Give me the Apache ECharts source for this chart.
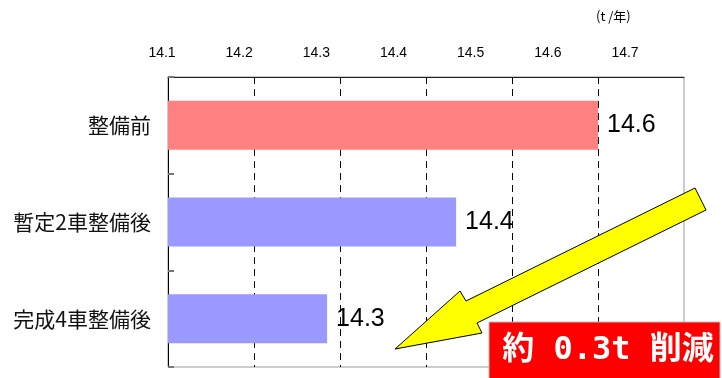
<!DOCTYPE html>
<html>
<head>
<meta charset="utf-8">
<script src="https://cdn.jsdelivr.net/npm/echarts@6/dist/echarts.min.js"></script>
<style>
  html, body { margin: 0; padding: 0; background: #fff; }
  #chart { width: 722px; height: 378px; }
</style>
</head>
<body>
<div id="chart"></div>
<script>
// CO2 emissions per year for each road-improvement stage (t/年)
const categories = ['整備前', '暫定2車整備後', '完成4車整備後'];
const emissions = [14.60, 14.435, 14.285];
const axisMin = 14.1;
const axisMax = 14.7;
const axisStep = 0.1;
const unitText = '(t /年)';
const calloutText = '約 0.3t 削減';

const barColors = ['#FF8080', '#9999FF', '#9999FF'];
const latinFont = '"Liberation Sans", Arial, sans-serif';
const cjkFont = '"Noto Sans CJK JP", "Liberation Sans", sans-serif';

const chart = echarts.init(document.getElementById('chart'), null, { renderer: 'canvas' });

chart.setOption({
  animation: false,
  backgroundColor: '#fff',
  grid: [
    { left: 168, right: 38, top: 77, bottom: 11, show: true, borderColor: '#999', borderWidth: 1 },
    // scale used only for the tick labels above the plot
    { left: 162, right: 97, top: 77, bottom: 11, show: false }
  ],
  xAxis: [
    {
      type: 'value', gridIndex: 0, position: 'top',
      min: axisMin, max: axisMax, interval: axisStep,
      axisLine: { show: true, lineStyle: { color: '#222', width: 1 } },
      axisTick: { show: false },
      axisLabel: { show: false },
      splitLine: { show: true, showMinLine: false, showMaxLine: false,
        lineStyle: { color: '#000', type: [7, 5], width: 1 } }
    },
    {
      type: 'value', gridIndex: 1, position: 'top',
      min: axisMin, max: axisMax, interval: axisStep,
      axisLine: { show: false }, axisTick: { show: false }, splitLine: { show: false },
      axisLabel: { show: true, margin: 17, color: '#000', fontSize: 14, fontFamily: latinFont,
        formatter: v => v.toFixed(1) }
    }
  ],
  yAxis: [
    {
      type: 'category', gridIndex: 0, data: categories, inverse: true,
      axisLine: { show: true, lineStyle: { color: '#000', width: 1 } },
      axisTick: { show: true, inside: true, length: 6, alignWithLabel: false,
        lineStyle: { color: '#777', width: 2 } },
      axisLabel: { color: '#111', fontSize: 21, fontFamily: cjkFont, margin: 17 },
      splitLine: { show: false }
    },
    { type: 'value', gridIndex: 1, show: false, min: 0, max: 1 }
  ],
  series: [
    {
      type: 'bar', xAxisIndex: 0, yAxisIndex: 0,
      data: emissions.map((v, i) => ({ value: v, itemStyle: { color: barColors[i] } })),
      barWidth: 49,
      label: {
        show: true, position: 'right', distance: 9,
        color: '#000', fontSize: 25, fontFamily: latinFont,
        formatter: p => p.value.toFixed(1)
      }
    }
  ],
  graphic: [
    {
      type: 'text', left: 596, top: 10,
      style: { text: unitText, fill: '#000', fontSize: 13, fontFamily: cjkFont }
    },
    {
      type: 'polygon', z: 10,
      shape: { points: [[395, 349], [460, 291], [466, 301], [695, 188], [706, 210], [477, 323], [482, 333]] },
      style: { fill: '#FFFF00', stroke: '#000', lineWidth: 1 }
    },
    {
      type: 'rect', z: 11,
      shape: { x: 489, y: 322, width: 231, height: 60 },
      style: { fill: '#FF0000', stroke: '#bbb', lineWidth: 1 }
    },
    {
      type: 'text', z: 12, x: 608, y: 351,
      style: {
        text: calloutText, fill: '#fff', fontSize: 32, fontWeight: 'bold',
        fontFamily: '"DejaVu Sans Mono", "Noto Sans CJK JP", monospace',
        align: 'center', verticalAlign: 'middle'
      }
    }
  ]
});
</script>
</body>
</html>
